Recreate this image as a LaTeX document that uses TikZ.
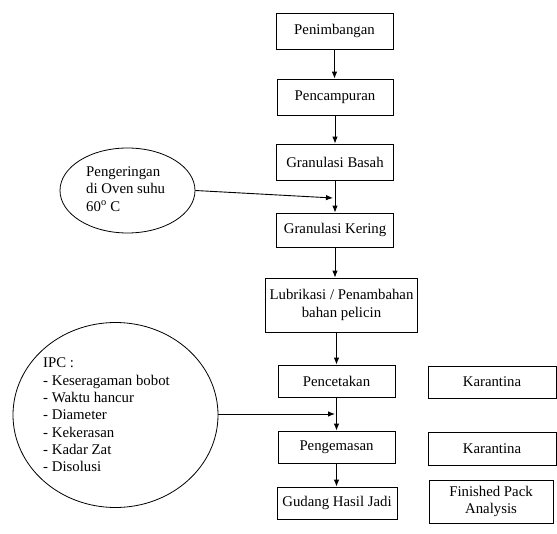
\documentclass[tikz,border=0pt]{standalone}
\usepackage{fontspec}
\setmainfont{Liberation Serif}
\usetikzlibrary{shapes.geometric,arrows.meta,calc}
\begin{document}
\begin{tikzpicture}[x=1pt,y=-1pt,
  every node/.style={font=\fontsize{14.8}{17.3}\selectfont},
  procbox/.style={draw, line width=0.8pt, rectangle, inner sep=0pt, align=center},
  note/.style={draw, line width=0.8pt, ellipse, inner sep=0pt},
  flow/.style={line width=0.9pt, -{Latex[length=7pt,width=5.5pt]}}]
\useasboundingbox (0,0) rectangle (557,534);
% main column
\node[procbox, minimum width=117pt, minimum height=36pt] (pen) at (334.5,31) {Penimbangan};
\node[procbox, minimum width=116pt, minimum height=36pt] (pcm) at (335,97) {Pencampuran};
\node[procbox, minimum width=117pt, minimum height=36pt] (gb) at (335,162) {Granulasi Basah};
\node[procbox, minimum width=117pt, minimum height=34pt] (gk) at (335,230) {Granulasi Kering};
\node[procbox, minimum width=152pt, minimum height=54pt] (lub) at (341.5,305) {Lubrikasi / Penambahan\\bahan pelicin};
\node[procbox, minimum width=117pt, minimum height=32pt] (cet) at (336.5,381) {Pencetakan};
\node[procbox, minimum width=117pt, minimum height=32pt] (kem) at (336.5,447) {Pengemasan};
\node[procbox, minimum width=120pt, minimum height=32pt] (gud) at (337,503) {Gudang Hasil Jadi};
% right column
\node[procbox, minimum width=128pt, minimum height=32pt] (kar1) at (492,382) {Karantina};
\node[procbox, minimum width=128pt, minimum height=33pt] (kar2) at (492,448.5) {Karantina};
\node[procbox, minimum width=124pt, minimum height=43pt] (fpa) at (491,501.5) {Finished Pack\\Analysis};
% ellipses
\node[note, minimum width=135pt, minimum height=85pt] (oven) at (127.5,190.5) {};
\node[align=left, inner sep=0pt, anchor=west] (oventext) at (86,189) {Pengeringan\\di Oven suhu\\60\textsuperscript{o} C};
\node[note, minimum width=205pt, minimum height=185pt] (ipc) at (115.5,415) {};
\node[align=left, inner sep=0pt, anchor=west] (ipctext) at (43,415) {IPC :\\- Keseragaman bobot\\- Waktu hancur\\- Diameter\\- Kekerasan\\- Kadar Zat\\- Disolusi};
% flow arrows
\draw[flow] (pen.south) -- (pen.south |- pcm.north);
\draw[flow] (pcm.south) -- (pcm.south |- gb.north);
\draw[flow] (gb.south) -- (gb.south |- gk.north);
\draw[flow] (gk.south) -- (gk.south |- lub.north);
\draw[flow] (cet.south |- lub.south) -- (cet.north);
\draw[flow] (cet.south) -- (cet.south |- kem.north);
\draw[flow] (kem.south) -- (kem.south |- gud.north);
% side inputs
\coordinate (ovenin) at (333,198);
\coordinate (ipcin) at (335,414);
\draw[flow] (oven.east) -- (ovenin);
\draw[flow] (ipc.east |- ipcin) -- (ipcin);
\end{tikzpicture}
\end{document}
